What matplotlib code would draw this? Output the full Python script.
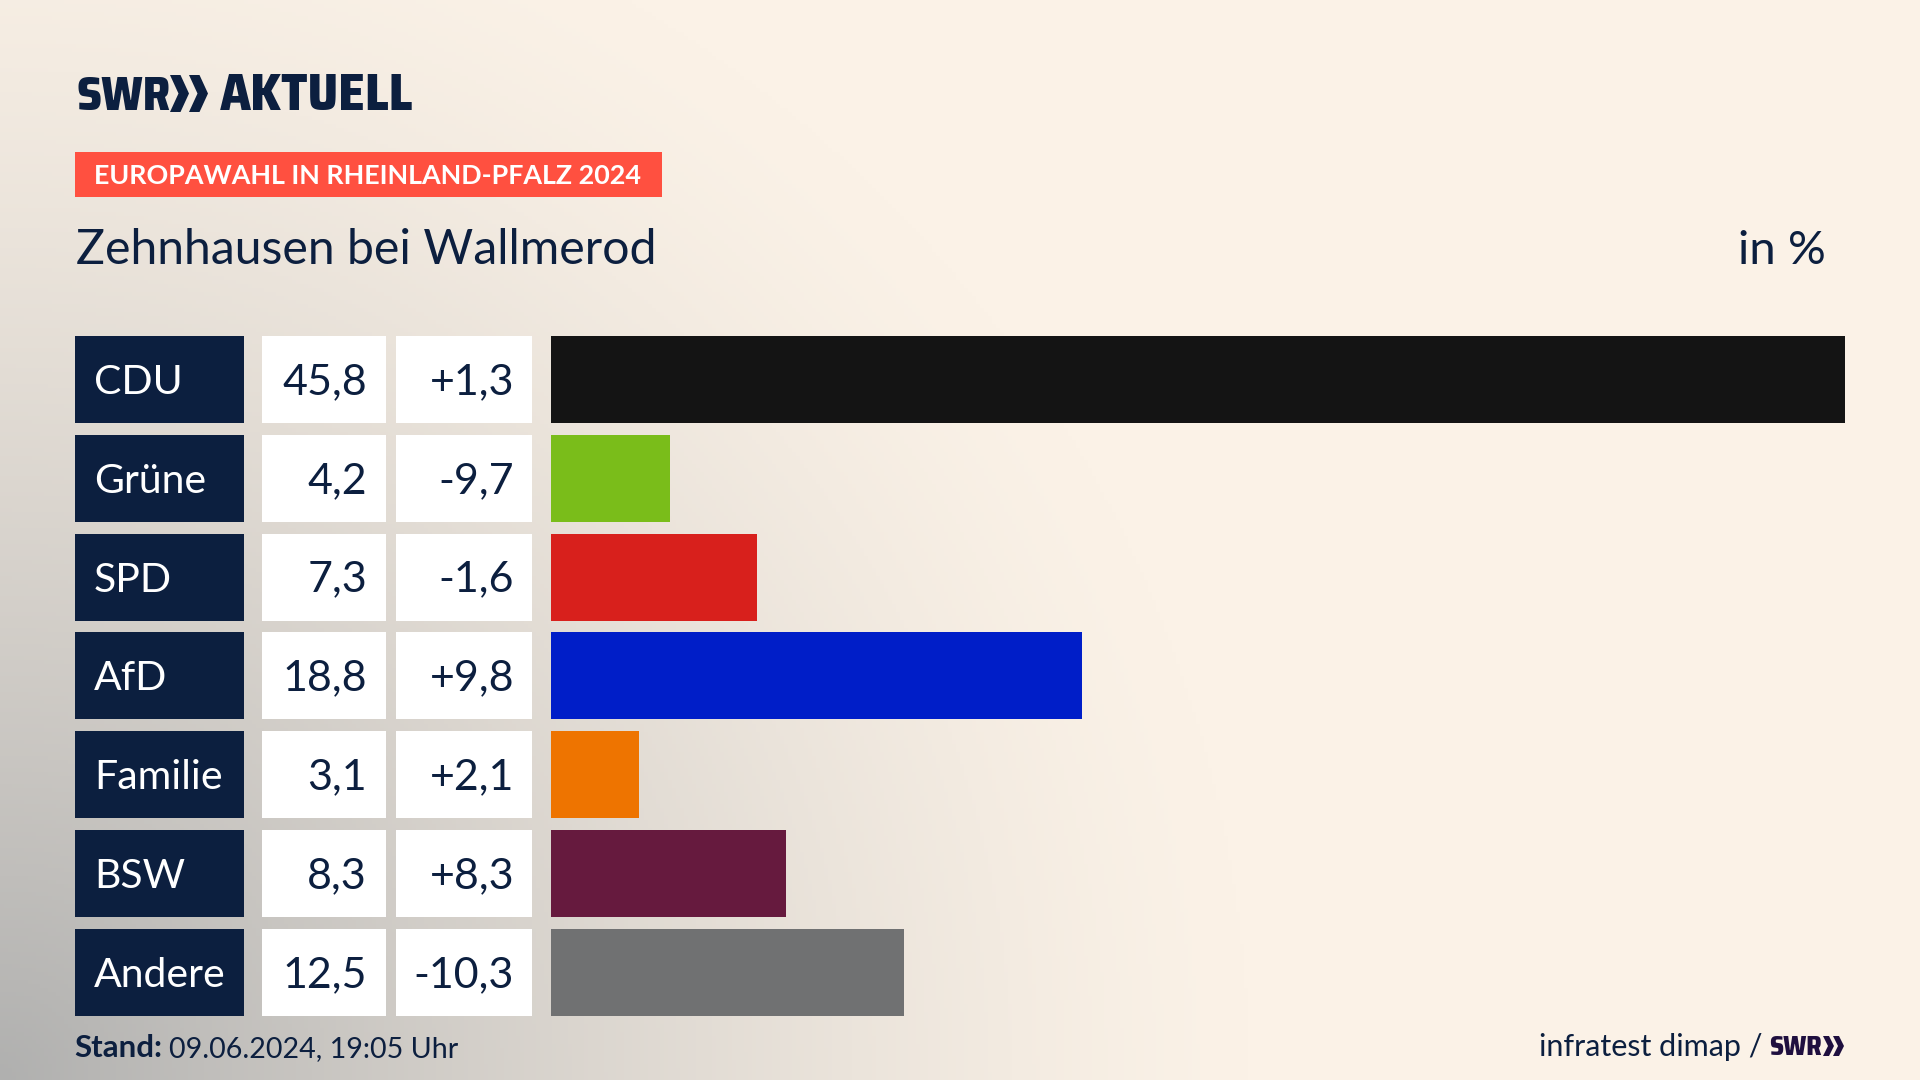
import matplotlib
matplotlib.use("Agg")
import matplotlib.pyplot as plt
import numpy as np
from matplotlib.patches import Polygon, Rectangle

parties = ["CDU", "Grüne", "SPD", "AfD", "Familie", "BSW", "Andere"]
shares = [45.8, 4.2, 7.3, 18.8, 3.1, 8.3, 12.5]
changes = ["+1,3", "-9,7", "-1,6", "+9,8", "+2,1", "+8,3", "-10,3"]
share_labels = ["45,8", "4,2", "7,3", "18,8", "3,1", "8,3", "12,5"]
bar_colors = ["#141414", "#7ABD1A", "#D8201C", "#001EC8", "#EE7400", "#661A3E", "#707172"]

NAVY = "#0C1F3F"
CREAM = np.array([251, 242, 231]) / 255
GREY = np.array([176, 176, 175]) / 255
FONT = "Lato"
LOGO_FONT = ["Saira SemiCondensed", "Lato"]
W, H = 1920, 1080

fig = plt.figure(figsize=(19.2, 10.8), dpi=100)

# whole figure in pixel coordinates, for background, boxes and text
bg = fig.add_axes([0, 0, 1, 1])
bg.set_xlim(0, W)
bg.set_ylim(H, 0)
bg.axis("off")

# soft grey glow from the lower left corner
xx, yy = np.meshgrid(np.linspace(0, W, 480), np.linspace(0, H, 270))
dist = np.sqrt((xx / 1250) ** 2 + ((H - yy) / 1250) ** 2)
t = np.clip(1 - dist, 0, 1)[..., None] ** 1.35
bg.imshow(CREAM + (GREY - CREAM) * t, extent=(0, W, H, 0), aspect="auto", zorder=0)
bg.set_xlim(0, W)
bg.set_ylim(H, 0)


def chevrons(x, top, bottom, arrow_w, wing, step, color):
    # the two arrows of the SWR logo
    mid = (top + bottom) / 2
    for i in range(2):
        left = x + i * step
        bg.add_patch(Polygon(
            [(left, top), (left + wing, top), (left + arrow_w, mid),
             (left + wing, bottom), (left, bottom), (left + arrow_w - wing, mid)],
            closed=True, fc=color, ec="none", zorder=3))


# header
bg.text(76, 110.5, "SWR", family=LOGO_FONT, weight=800, fontsize=34, color=NAVY, va="baseline")
chevrons(170, 75, 112, 19, 10.5, 19, NAVY)
bg.text(220, 110.5, "AKTUELL", family=LOGO_FONT, weight=800, fontsize=37, color=NAVY, va="baseline")

bg.add_patch(Rectangle((75, 152), 587, 45, fc="#FF5040", ec="none", zorder=2))
bg.text(94, 184.5, "EUROPAWAHL IN RHEINLAND-PFALZ 2024", family=FONT, weight="bold",
        fontsize=19.37, color="white", va="baseline", zorder=3)

bg.text(76, 264, "Zehnhausen bei Wallmerod", family=FONT, fontsize=34.7, color=NAVY, va="baseline")
bg.text(1826, 264, "in %", family=FONT, fontsize=34, color=NAVY, va="baseline", ha="right")

# table rows
row_top = 336
row_step = 98.8
row_h = 87
for i, party in enumerate(parties):
    top = row_top + i * row_step
    base = top + 58
    bg.add_patch(Rectangle((75, top), 169, row_h, fc=NAVY, ec="none", zorder=2))
    bg.add_patch(Rectangle((262, top), 124, row_h, fc="white", ec="none", zorder=2))
    bg.add_patch(Rectangle((396, top), 136, row_h, fc="white", ec="none", zorder=2))
    bg.text(94, base, party, family=FONT, fontsize=29.5, color="white", va="baseline", zorder=3)
    bg.text(367, base, share_labels[i], family=FONT, fontsize=31, color=NAVY, va="baseline", ha="right", zorder=3)
    bg.text(514, base, changes[i], family=FONT, fontsize=31, color=NAVY, va="baseline", ha="right", zorder=3)

# bars on their own axes, scaled to the largest share
ax = fig.add_axes([551 / W, 1 - (row_top + 6 * row_step + row_h) / H,
                   (1845 - 551) / W, (6 * row_step + row_h) / H])
ax.patch.set_alpha(0)
pad = row_h / row_step / 2
ax.barh(range(len(parties)), shares, height=2 * pad, color=bar_colors)
ax.set_xlim(0, max(shares))
ax.set_ylim(6 + pad, -pad)
ax.axis("off")

# footer
bg.text(74, 1057, "Stand:", family=FONT, weight="bold", fontsize=22.5, color=NAVY, va="baseline")
bg.text(169, 1057, "09.06.2024, 19:05 Uhr", family=FONT, fontsize=20.6, color=NAVY, va="baseline")
bg.text(1539, 1056, "infratest dimap /", family=FONT, fontsize=22, color=NAVY, va="baseline")
bg.text(1769, 1055, "SWR", family=LOGO_FONT, weight=800, fontsize=19, color="#1F0F3F", va="baseline")
chevrons(1823, 1036, 1056, 11, 6, 10, "#1F0F3F")

fig.savefig("out.png", dpi=100)
